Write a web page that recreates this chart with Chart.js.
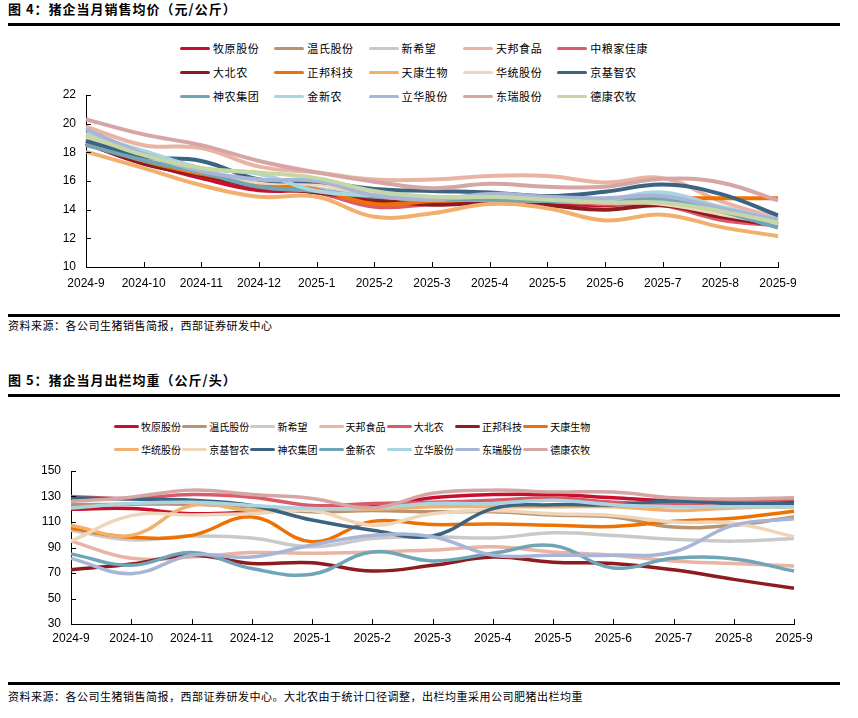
<!DOCTYPE html>
<html>
<head>
<meta charset="utf-8">
<script src="https://cdn.jsdelivr.net/npm/chart.js@4.4.1/dist/chart.umd.min.js"></script>
<style>
    body { margin: 0; background: #fff; width: 858px; height: 718px; position: relative; overflow: hidden; font-family: "Noto Sans CJK SC", sans-serif; color: #000; }
    .title { position: absolute; left: 8px; font-size: 13px; line-height: 13px; font-weight: bold; letter-spacing: 1px; white-space: nowrap; }
    .rule { position: absolute; left: 8px; width: 832px; height: 3px; background: #000; }
    .src { position: absolute; left: 8px; font-size: 11px; line-height: 11px; letter-spacing: 0.5px; white-space: nowrap; }
    .lg { position: absolute; display: flex; align-items: center; white-space: nowrap; height: 14px; }
    .lg i { display: inline-block; height: 3px; border-radius: 2px; }
    canvas { position: absolute; left: 0; }
</style>
</head>
<body>
<div class="title" style="top:2px;">图 4：猪企当月销售均价（元/公斤）</div>
<div class="rule" style="top:23px;"></div>
<div id="legend1"></div>
<canvas id="price-chart" width="858" height="215" style="top:85px;width:858px;height:215px;"></canvas>
<div class="rule" style="top:314px;"></div>
<div class="src" style="top:320px;">资料来源：各公司生猪销售简报，西部证券研发中心</div>

<div class="title" style="top:373px;">图 5：猪企当月出栏均重（公斤/头）</div>
<div class="rule" style="top:394px;"></div>
<div id="legend2"></div>
<canvas id="weight-chart" width="858" height="190" style="top:460px;width:858px;height:190px;"></canvas>
<div class="rule" style="top:682px;"></div>
<div class="src" style="top:691px;">资料来源：各公司生猪销售简报，西部证券研发中心。大北农由于统计口径调整，出栏均重采用公司肥猪出栏均重</div>

<script>
// ---- データ ----
const months = ['2024-9', '2024-10', '2024-11', '2024-12', '2025-1', '2025-2', '2025-3',
    '2025-4', '2025-5', '2025-6', '2025-7', '2025-8', '2025-9'];

const palette = ['#C8102E', '#B89470', '#C9C9C9', '#E9B4A4', '#DA5A6A', '#8E1B1E', '#EE7203',
    '#F2B06E', '#EFD5B9', '#3B6382', '#6FA5B7', '#A9D4E2', '#A9B5D6', '#D5A6A4', '#C4D7A4'];

// 図4 销售均价（元/公斤）
const priceNames = ['牧原股份', '温氏股份', '新希望', '天邦食品', '中粮家佳康', '大北农', '正邦科技', '天康生物',
    '华统股份', '京基智农', '神农集团', '金新农', '立华股份', '东瑞股份', '德康农牧'];
const priceMuyuan = [18.6, 17.3, 16.2, 15.35, 15.3, 14.5, 14.4, 14.6, 14.5, 14.3, 14.5, 13.6, 13.0];
const priceWens = [18.8, 17.5, 16.5, 15.8, 15.3, 14.8, 14.6, 14.7, 14.6, 14.4, 14.3, 13.6, 13.0];
const priceNewHope = [18.9, 17.5, 16.6, 15.9, 15.5, 14.9, 14.8, 14.8, 14.7, 14.5, 14.4, 13.8, 13.1];
const priceTianbang = [19.8, 18.5, 18.3, 17.0, 16.6, 16.1, 16.1, 16.35, 16.35, 15.9, 16.2, 14.6, 13.4];
const priceCofco = [18.6, 17.3, 16.4, 15.6, 15.2, 14.2, 14.4, 14.6, 14.6, 14.4, 14.3, 13.3, 12.9];
const priceDbn = [18.6, 17.2, 16.4, 15.6, 15.2, 14.7, 14.35, 14.5, 14.3, 14.0, 14.3, 13.5, 12.9];
const priceZhengbang = [18.7, 17.4, 16.5, 15.8, 15.4, 14.4, 14.6, 14.7, 14.6, 14.7, 14.8, 14.8, 14.8];
const priceTiankang = [18.05, 16.9, 15.7, 14.9, 14.9, 13.5, 13.75, 14.4, 14.1, 13.25, 13.65, 12.8, 12.15];
const priceHuatong = [19.0, 17.6, 16.6, 15.9, 15.8, 15.0, 14.7, 14.7, 14.6, 14.5, 14.4, 13.7, 13.0];
const priceJingji = [18.8, 17.7, 17.4, 16.1, 15.95, 15.45, 15.3, 15.2, 14.95, 15.25, 15.75, 15.1, 13.6];
const priceShennong = [18.5, 17.45, 16.6, 15.6, 15.3, 14.9, 14.7, 14.7, 14.6, 14.6, 14.7, 13.9, 12.75];
const priceJinxinnong = [19.3, 18.1, 16.9, 16.5, 15.3, 15.0, 14.8, 14.9, 14.8, 14.7, 15.2, 14.2, 13.3];
const priceLihua = [19.6, 17.9, 16.7, 16.1, 16.0, 15.0, 14.7, 15.1, 14.9, 14.8, 14.95, 14.1, 13.3];
const priceDongrui = [20.3, 19.25, 18.5, 17.4, 16.6, 15.95, 15.5, 15.8, 15.6, 15.6, 16.15, 15.9, 14.65];
const priceDekang = [19.2, 17.8, 16.9, 16.6, 16.2, 15.3, 14.9, 14.9, 14.7, 14.5, 14.5, 13.9, 13.1];
const priceTicks = [10, 12, 14, 16, 18, 20, 22];

// 図5 出栏均重（公斤/头）
const weightNames = ['牧原股份', '温氏股份', '新希望', '天邦食品', '大北农', '正邦科技', '天康生物',
    '华统股份', '京基智农', '神农集团', '金新农', '立华股份', '东瑞股份', '德康农牧'];
const weightMuyuan = [120, 120.5, 116.5, 118, 121, 122, 129, 131.5, 131.5, 129, 126.5, 125.5, 125.5];
const weightWens = [123.5, 124, 124, 122, 118, 119, 118, 118, 115.5, 114, 106, 107.5, 114];
const weightNewHope = [103.5, 96, 99, 97.5, 90.5, 97, 98.5, 97.5, 101.5, 99.5, 96.5, 95, 97];
const weightTianbang = [95, 81.5, 82.5, 86, 85.5, 86.5, 88, 90.5, 86.5, 84, 79.5, 77.5, 75.5];
const weightDbn = [130, 128.5, 131.5, 129.5, 123, 124.5, 125.5, 127, 129, 125.5, 124.5, 125.5, 128];
const weightZhengbang = [72.5, 77, 84, 77.5, 78, 71.5, 76, 82.5, 78.5, 77.5, 72.5, 65, 58];
const weightTiankang = [105, 98, 99.5, 114, 94.5, 110.5, 108, 108.5, 107.5, 106.5, 110.5, 113, 118.5];
const weightHuatong = [107.5, 99.5, 123, 119, 120, 120, 122, 122, 122, 122, 119, 121, 122];
const weightJingji = [95, 115, 115.5, 116.5, 119, 107.5, 116.5, 119, 116.5, 115, 110, 109, 98.5];
const weightShennong = [129, 128, 127, 123, 111.5, 103.5, 99, 120.5, 123.5, 123.5, 126.5, 124.5, 124.5];
const weightJinxinnong = [85, 76, 86, 73.5, 69, 86.5, 79.5, 85.5, 91.5, 74, 81.5, 81, 71.5];
const weightLihua = [121, 124.5, 125.5, 123, 120.5, 121, 124.5, 124.5, 127, 123.5, 122, 122, 122];
const weightDongrui = [81.5, 69.5, 84, 82.5, 92, 99.5, 98.5, 84, 84, 84, 86.5, 107.5, 112.5];
const weightDekang = [126, 129.5, 135, 131.5, 128.5, 121, 132.5, 135, 133.5, 133.5, 129, 128, 129];
const weightTicks = [30, 50, 70, 90, 110, 130, 150];

const priceSeries = [priceMuyuan, priceWens, priceNewHope, priceTianbang, priceCofco, priceDbn, priceZhengbang,
    priceTiankang, priceHuatong, priceJingji, priceShennong, priceJinxinnong, priceLihua, priceDongrui, priceDekang];
const weightSeries = [weightMuyuan, weightWens, weightNewHope, weightTianbang, weightDbn, weightZhengbang,
    weightTiankang, weightHuatong, weightJingji, weightShennong, weightJinxinnong, weightLihua, weightDongrui, weightDekang];

// 内向きの目盛り
const innerTicks = {
    id: 'innerTicks',
    afterDraw(chart) {
        const ctx = chart.ctx;
        const xs = chart.scales.x;
        const ys = chart.scales.y;
        ctx.save();
        ctx.strokeStyle = '#000';
        ctx.lineWidth = 1;
        ctx.beginPath();
        xs.ticks.forEach((t, i) => {
            const px = Math.round(xs.getPixelForTick(i)) + 0.5;
            ctx.moveTo(px, xs.top);
            ctx.lineTo(px, xs.top - 5);
        });
        ys.ticks.forEach((t, i) => {
            const py = Math.round(ys.getPixelForTick(i)) + 0.5;
            ctx.moveTo(ys.right, py);
            ctx.lineTo(ys.right + 5, py);
        });
        ctx.stroke();
        ctx.restore();
    },
};

function buildLegend(id, names, colors, opt) {
    const box = document.getElementById(id);
    box.innerHTML = names.map((n, i) => {
        const col = i % opt.cols;
        const row = Math.floor(i / opt.cols);
        const left = opt.x0 + col * opt.pitch;
        const top = opt.rows[row] - 7;
        return `<div class="lg" style="left:${left}px;top:${top}px;font-size:${opt.font}px;letter-spacing:${opt.ls}px;">` +
            `<i style="width:${opt.lineW}px;background:${colors[i]};margin-right:${opt.gap}px;"></i>${n}</div>`;
    }).join('');
}

function makeChart(canvasId, names, series, ticks, box) {
    const datasets = names.map((n, i) => ({
        label: n,
        data: series[i],
        borderColor: palette[i],
        backgroundColor: palette[i],
        borderWidth: box.lw,
        pointRadius: 0,
        pointHoverRadius: 0,
        tension: 0.4,
        fill: false,
        borderJoinStyle: 'round',
        order: names.length - i,
    }));
    return new Chart(document.getElementById(canvasId), {
        type: 'line',
        data: { labels: months, datasets },
        options: {
            responsive: false,
            animation: false,
            layout: { autoPadding: false, padding: { left: 0, right: box.right, top: box.top, bottom: 0 } },
            plugins: { legend: { display: false }, tooltip: { enabled: false } },
            scales: {
                x: {
                    grid: { display: false, drawTicks: false },
                    border: { display: true, color: '#000', width: 1 },
                    ticks: {
                        color: '#000', autoSkip: false, maxRotation: 0, padding: box.xPad,
                        font: { family: "'Liberation Sans', Arial, sans-serif", size: 12 },
                    },
                    afterFit: s => { s.height = box.xH; s.paddingLeft = 0; s.paddingRight = 0; },
                },
                y: {
                    min: ticks[0],
                    max: ticks[ticks.length - 1],
                    afterBuildTicks: s => { s.ticks = ticks.map(v => ({ value: v })); },
                    grid: { display: false, drawTicks: false },
                    border: { display: true, color: '#000', width: 1 },
                    ticks: {
                        color: '#000', padding: box.yPad,
                        font: { family: "'Liberation Sans', Arial, sans-serif", size: 12 },
                    },
                    afterFit: s => { s.width = box.yW; s.paddingTop = 0; s.paddingBottom = 0; },
                },
            },
        },
        plugins: [innerTicks],
    });
}

buildLegend('legend1', priceNames, palette, {
    cols: 5, x0: 180, pitch: 94.3, rows: [48, 72, 96], lineW: 30, gap: 3, font: 11, ls: 0.6,
});
buildLegend('legend2', weightNames, palette, {
    cols: 7, x0: 114, pitch: 68.2, rows: [426, 449], lineW: 25, gap: 2, font: 10, ls: 0,
});

makeChart('price-chart', priceNames, priceSeries, priceTicks,
    { right: 80, top: 10, xH: 33, yW: 86, xPad: 9, yPad: 10, lw: 4 });
makeChart('weight-chart', weightNames, weightSeries, weightTicks,
    { right: 64, top: 11, xH: 26, yW: 71, xPad: 7, yPad: 10, lw: 3.5 });
</script>
</body>
</html>
